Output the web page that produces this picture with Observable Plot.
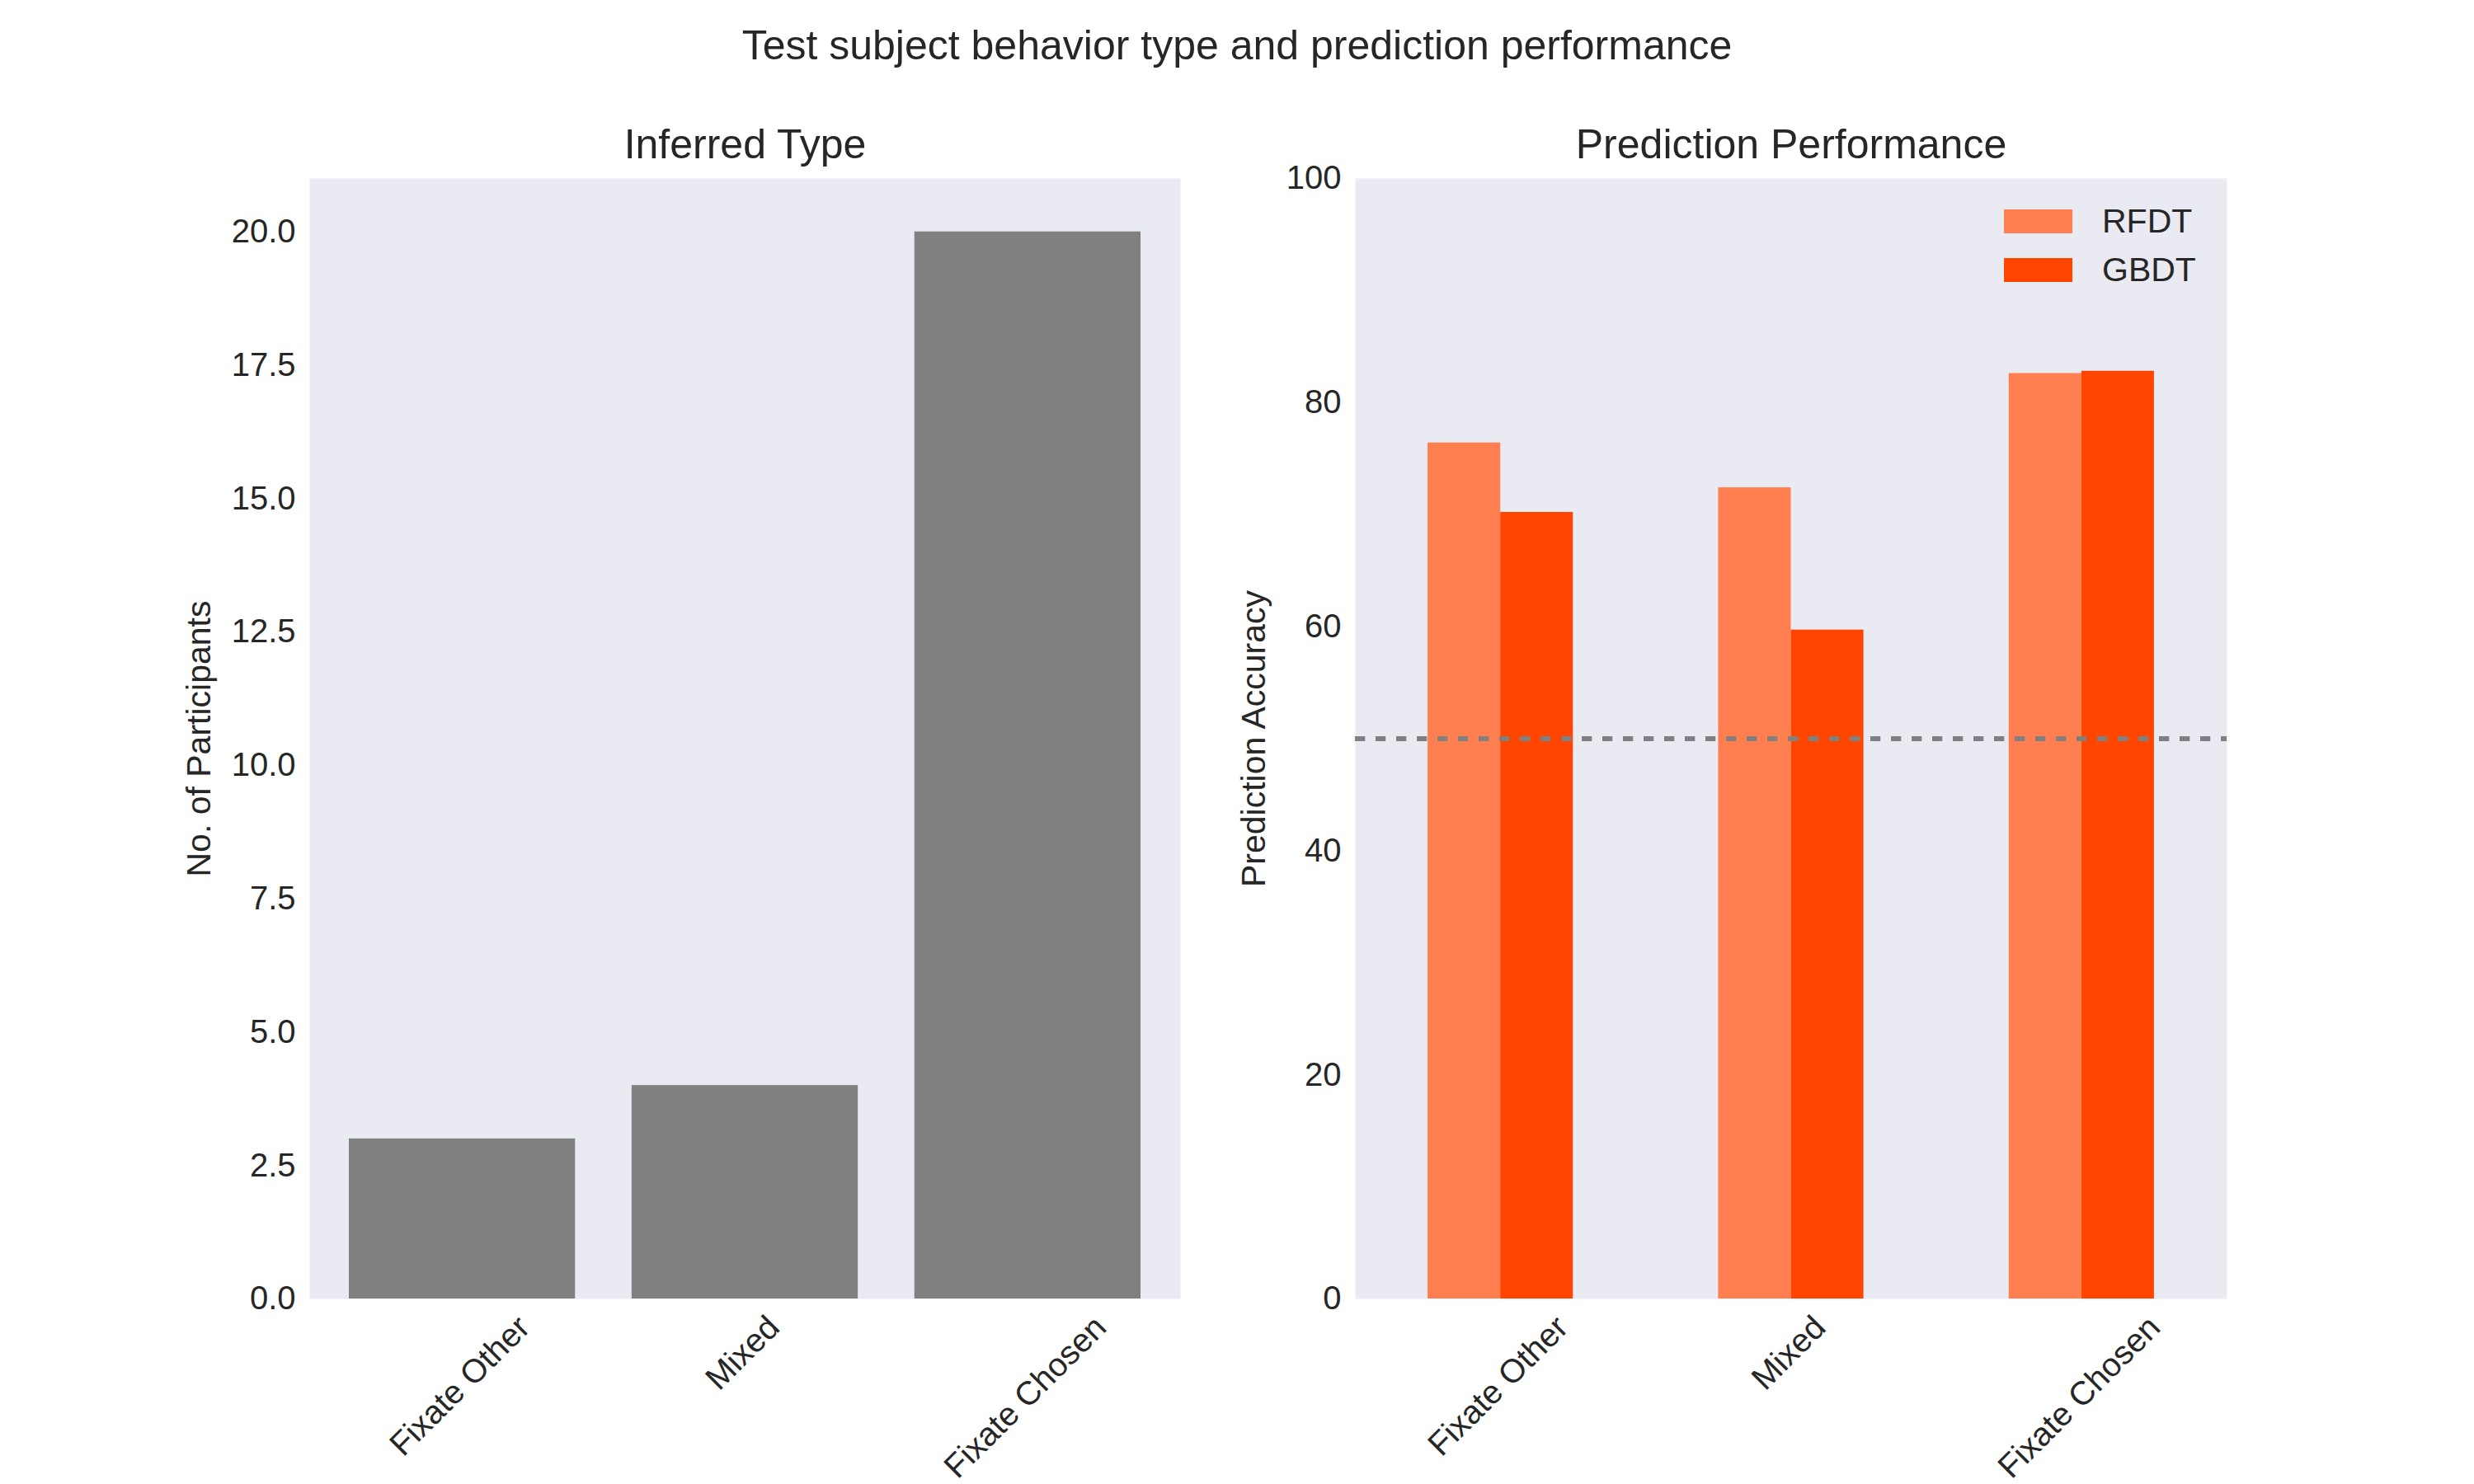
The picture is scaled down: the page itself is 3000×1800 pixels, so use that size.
<!DOCTYPE html>
<html>
<head>
<meta charset="utf-8">
<script src="https://cdn.jsdelivr.net/npm/d3@7"></script>
<script src="https://cdn.jsdelivr.net/npm/@observablehq/plot@0.6"></script>
<style>
  body { margin: 0; background: #fff; }
  #fig { position: relative; width: 3000px; height: 1800px; background: #fff; overflow: hidden;
         font-family: "Liberation Sans", Arial, sans-serif; color: #262626; }
  .panel { position: absolute; top: 0; }
  #title { position: absolute; left: 0; top: 30px; width: 3000px; text-align: center;
           font-size: 50px; line-height: 50px; white-space: nowrap; }
  #legend { position: absolute; left: 2430px; top: 239px; width: 320px; }
  #legend [class$="-swatch"] { height: 59px; padding: 0; margin: 0; display: flex; align-items: center; }
  #legend svg { margin-right: 36px; }
  #legend, #legend div { font-family: "Liberation Sans", Arial, sans-serif; font-size: 41px; color: #262626; margin: 0; }
</style>
</head>
<body>
<div id="fig">
  <div id="title">Test subject behavior type and prediction performance</div>
</div>
<script>
// ---- data ----
const categories = ["Fixate Other", "Mixed", "Fixate Chosen"];
const participants = [3, 4, 20];
const models = ["RFDT", "GBDT"];
const rfdtAccuracy = [76.4, 72.4, 82.6];
const gbdtAccuracy = [70.2, 59.7, 82.8];
const countTicks = [0, 2.5, 5, 7.5, 10, 12.5, 15, 17.5, 20];
const accuracyTicks = [0, 20, 40, 60, 80, 100];
const chanceLevel = [50];
const modelColors = ["#FF7F50", "#FF4500"];

const typeRows = categories.map((c, i) => ({type: c, count: participants[i]}));
const perfRows = categories.flatMap((c, i) => [
  {type: c, model: models[0], accuracy: rfdtAccuracy[i]},
  {type: c, model: models[1], accuracy: gbdtAccuracy[i]}
]);

// ---- layout / style ----
const FONT = '"Liberation Sans", Arial, sans-serif';
const W = 1500, H = 1800, MT = 216, MB = 225;
const tickFs = 40, labelFs = 41, titleFs = 50;
const BG = "#EAEAF2";
const style = {fontFamily: FONT, fontSize: tickFs + "px", color: "#262626", background: "transparent", overflow: "visible"};

const ctx = document.createElement("canvas").getContext("2d");
function labelShift(s) {
  ctx.font = `${tickFs}px "Liberation Sans"`;
  const w = ctx.measureText(s).width;
  return Math.SQRT1_2 * (w + 0.72 * tickFs) / 2 - 4;
}
function rotatedLabels() {
  return categories.map(c => Plot.axisX([c], {
    tickSize: 0, tickPadding: 37, tickRotate: -45,
    textAnchor: "end", lineAnchor: "bottom",
    dx: labelShift(c), label: null, fontSize: tickFs
  }));
}
function panelTitle(t) {
  return Plot.text([t], {text: d => d, frameAnchor: "top", lineAnchor: "bottom", dy: -25, fontSize: titleFs});
}
function yLabel(t, dx) {
  return Plot.text([t], {text: d => d, frameAnchor: "left", rotate: -90, lineAnchor: "bottom", textAnchor: "middle", dx, fontSize: labelFs});
}

// ---- left panel ----
const left = Plot.plot({
  width: W, height: H,
  marginLeft: 375, marginRight: 69, marginTop: MT, marginBottom: MB,
  style,
  x: {domain: categories, paddingInner: 0.2, paddingOuter: 0.14, round: false},
  y: {domain: [0, 21]},
  marks: [
    Plot.frame({fill: BG, stroke: "none"}),
    Plot.barY(typeRows, {x: "type", y: "count", fill: "#808080"}),
    Plot.axisY(countTicks, {tickSize: 0, tickPadding: 17, tickFormat: d => d.toFixed(1), label: null, fontSize: tickFs}),
    ...rotatedLabels(),
    yLabel("No. of Participants", -121),
    panelTitle("Inferred Type")
  ]
});

// ---- right panel ----
const rML = 143, rMR = 300, padIn = 0.5, padOut = 0.25;
const halfBand = (W - rML - rMR) / (categories.length - padIn + 2 * padOut) * (1 - padIn) / 2;
const right = Plot.plot({
  width: W, height: H,
  marginLeft: rML, marginRight: rMR, marginTop: MT, marginBottom: MB,
  style,
  x: {domain: categories, paddingInner: padIn, paddingOuter: padOut, round: false},
  y: {domain: [0, 100]},
  color: {domain: models, range: modelColors},
  marks: [
    Plot.frame({fill: BG, stroke: "none"}),
    Plot.barY(perfRows.filter(d => d.model === models[0]), {x: "type", y: "accuracy", fill: "model", insetRight: halfBand}),
    Plot.barY(perfRows.filter(d => d.model === models[1]), {x: "type", y: "accuracy", fill: "model", insetLeft: halfBand}),
    Plot.ruleY(chanceLevel, {stroke: "#808080", strokeWidth: 6, strokeDasharray: "12.3,12.7"}),
    Plot.axisY(accuracyTicks, {tickSize: 0, tickPadding: 17, label: null, fontSize: tickFs}),
    ...rotatedLabels(),
    yLabel("Prediction Accuracy", -110),
    panelTitle("Prediction Performance")
  ]
});

const fig = document.getElementById("fig");
const lp = document.createElement("div"); lp.className = "panel"; lp.style.left = "0px"; lp.appendChild(left); fig.appendChild(lp);
const rp = document.createElement("div"); rp.className = "panel"; rp.style.left = "1500px"; rp.appendChild(right); fig.appendChild(rp);

const legendWrap = document.createElement("div");
legendWrap.id = "legend";
legendWrap.appendChild(Plot.legend({
  color: {type: "ordinal", domain: models, range: modelColors},
  legend: "swatches", columns: 1, swatchWidth: 83, swatchHeight: 29,
  style: {fontFamily: FONT, fontSize: labelFs + "px", color: "#262626"}
}));
fig.appendChild(legendWrap);
</script>
</body>
</html>
